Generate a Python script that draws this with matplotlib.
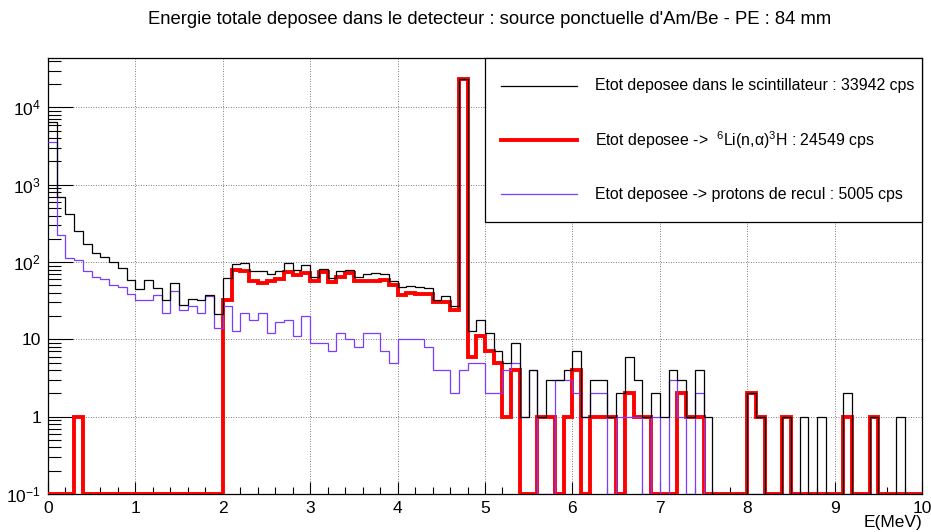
import numpy as np
import matplotlib
matplotlib.use('Agg')
import matplotlib.pyplot as plt
from matplotlib.ticker import FixedLocator, FixedFormatter, MultipleLocator, NullFormatter
from matplotlib.patches import Rectangle

plt.rcParams['font.family'] = ['Liberation Sans', 'DejaVu Sans']
plt.rcParams['mathtext.fontset'] = 'custom'
plt.rcParams['mathtext.rm'] = 'Liberation Sans'
plt.rcParams['mathtext.it'] = 'Liberation Sans:italic'

# 100 bins of 0.1 MeV between 0 and 10 MeV
edges = np.linspace(0.0, 10.0, 101)

# total energy deposited in the scintillator
total = [6500, 700, 423, 255, 171, 131, 116, 100, 83, 59,
         45, 59, 46, 32, 53, 28, 33, 32, 37, 21,
         63, 95, 96, 76, 76, 70, 76, 96, 79, 91,
         65, 82, 63, 77, 80, 65, 70, 72, 70, 57,
         47, 49, 48, 46, 32, 36, 27, 23060, 13, 18,
         12, 7, 5, 9, 1, 4, 1, 3, 3, 4,
         7, 1, 3, 3, 1, 2, 6, 3, 1, 2,
         1, 4, 3, 1, 4, 1, 0, 0, 0, 0,
         2, 1, 0, 0, 1, 0, 1, 0, 1, 0,
         0, 2, 0, 0, 1, 0, 0, 1, 0, 0]

# 6Li(n,alpha)3H
lithium = [0, 0, 0, 1, 0, 0, 0, 0, 0, 0,
           0, 0, 0, 0, 0, 0, 0, 0, 0, 0,
           32, 80, 76, 57, 53, 57, 60, 74, 68, 72,
           57, 74, 56, 65, 72, 57, 57, 57, 59, 51,
           37, 40, 39, 39, 30, 30, 24, 23000, 6, 11,
           7, 5, 1, 4, 0, 0, 1, 1, 0, 1,
           4, 0, 1, 1, 1, 0, 2, 1, 1, 0,
           0, 0, 2, 1, 1, 0, 0, 0, 0, 0,
           2, 1, 0, 0, 1, 0, 0, 0, 0, 0,
           0, 1, 0, 0, 1, 0, 0, 0, 0, 0]

# recoil protons
protons = [3580, 221, 114, 106, 76, 65, 60, 50, 48, 39,
           32, 32, 37, 22, 42, 24, 27, 22, 36, 14,
           27, 13, 22, 18, 22, 12, 17, 18, 11, 20,
           9, 9, 7, 12, 10, 8, 12, 12, 7, 5,
           10, 10, 10, 8, 4, 4, 2, 4, 5, 5,
           2, 2, 4, 5, 1, 4, 0, 0, 3, 3,
           2, 1, 2, 2, 0, 1, 1, 1, 0, 1,
           0, 3, 1, 0, 2, 0, 0, 0, 0, 0,
           0, 0, 0, 0, 0, 0, 0, 0, 0, 0,
           0, 0, 0, 0, 0, 0, 0, 0, 0, 0]

labels = ["Etot deposee dans le scintillateur : 33942 cps",
          r"Etot deposee ->  $^{6}$Li(n,α)$^{3}$H : 24549 cps",
          "Etot deposee -> protons de recul : 5005 cps"]

ymin, ymax = 0.1, 43600
violet = '#7a3cff'

fig = plt.figure(figsize=(9.31, 5.32), dpi=100)
ax = fig.add_axes([48 / 931, 1 - 494 / 532, 874 / 931, 436 / 532])

# empty bins are drawn on the bottom of the frame, like ROOT does
ax.stairs(np.maximum(lithium, ymin), edges, baseline=None, color='red', lw=2.8, zorder=3)
ax.stairs(np.maximum(protons, ymin), edges, baseline=None, color=violet, lw=0.9, zorder=4)
ax.stairs(np.maximum(total, ymin), edges, baseline=None, color='black', lw=0.9, zorder=5)

ax.set_yscale('log')
ax.set_xlim(0, 10)
ax.set_ylim(ymin, ymax)

ax.xaxis.set_major_locator(MultipleLocator(1))
ax.xaxis.set_minor_locator(MultipleLocator(0.2))
decades = [0.1, 1, 10, 100, 1000, 10000]
ax.yaxis.set_major_locator(FixedLocator(decades))
ax.yaxis.set_major_formatter(FixedFormatter([r'$\mathregular{10^{-1}}$', '1', '10',
                                             r'$\mathregular{10^{2}}$', r'$\mathregular{10^{3}}$',
                                             r'$\mathregular{10^{4}}$']))
minors = [m * d for d in decades for m in range(2, 10)]
ax.yaxis.set_minor_locator(FixedLocator(minors))
ax.yaxis.set_minor_formatter(NullFormatter())

ax.tick_params(axis='both', which='both', direction='in', labelsize=12.5, width=0.8)
ax.tick_params(axis='x', which='major', length=9, pad=5)
ax.tick_params(axis='x', which='minor', length=4.7)
ax.tick_params(axis='y', which='major', length=18, pad=5)
ax.tick_params(axis='y', which='minor', length=9)

ax.grid(which='major', color='#555555', linestyle=(0, (1, 2)), lw=0.6)
for s in ax.spines.values():
    s.set_linewidth(0.9)

# legend box in the top right corner
ax.add_patch(Rectangle((0.5, 0.624), 0.5, 0.376, transform=ax.transAxes,
                       facecolor='white', edgecolor='black', lw=0.9, zorder=10, clip_on=False))
rows = [0.936, 0.812, 0.688]
styles = [('black', 0.9), ('red', 2.8), (violet, 0.9)]
for y, lab, (c, w) in zip(rows, labels, styles):
    ax.plot([0.518, 0.605], [y, y], color=c, lw=w, transform=ax.transAxes, zorder=11, clip_on=False)
    ax.text(0.626, y, lab, transform=ax.transAxes, fontsize=11.4, va='center', ha='left', zorder=11)

fig.text(0.526, 1 - 20 / 532,
         "Energie totale deposee dans le detecteur : source ponctuelle d'Am/Be - PE : 84 mm",
         ha='center', va='center', fontsize=13.3)
fig.text(922 / 931, 1 - 523 / 532, 'E(MeV)', ha='right', va='center', fontsize=12.5)

fig.savefig('out.png', dpi=100)
